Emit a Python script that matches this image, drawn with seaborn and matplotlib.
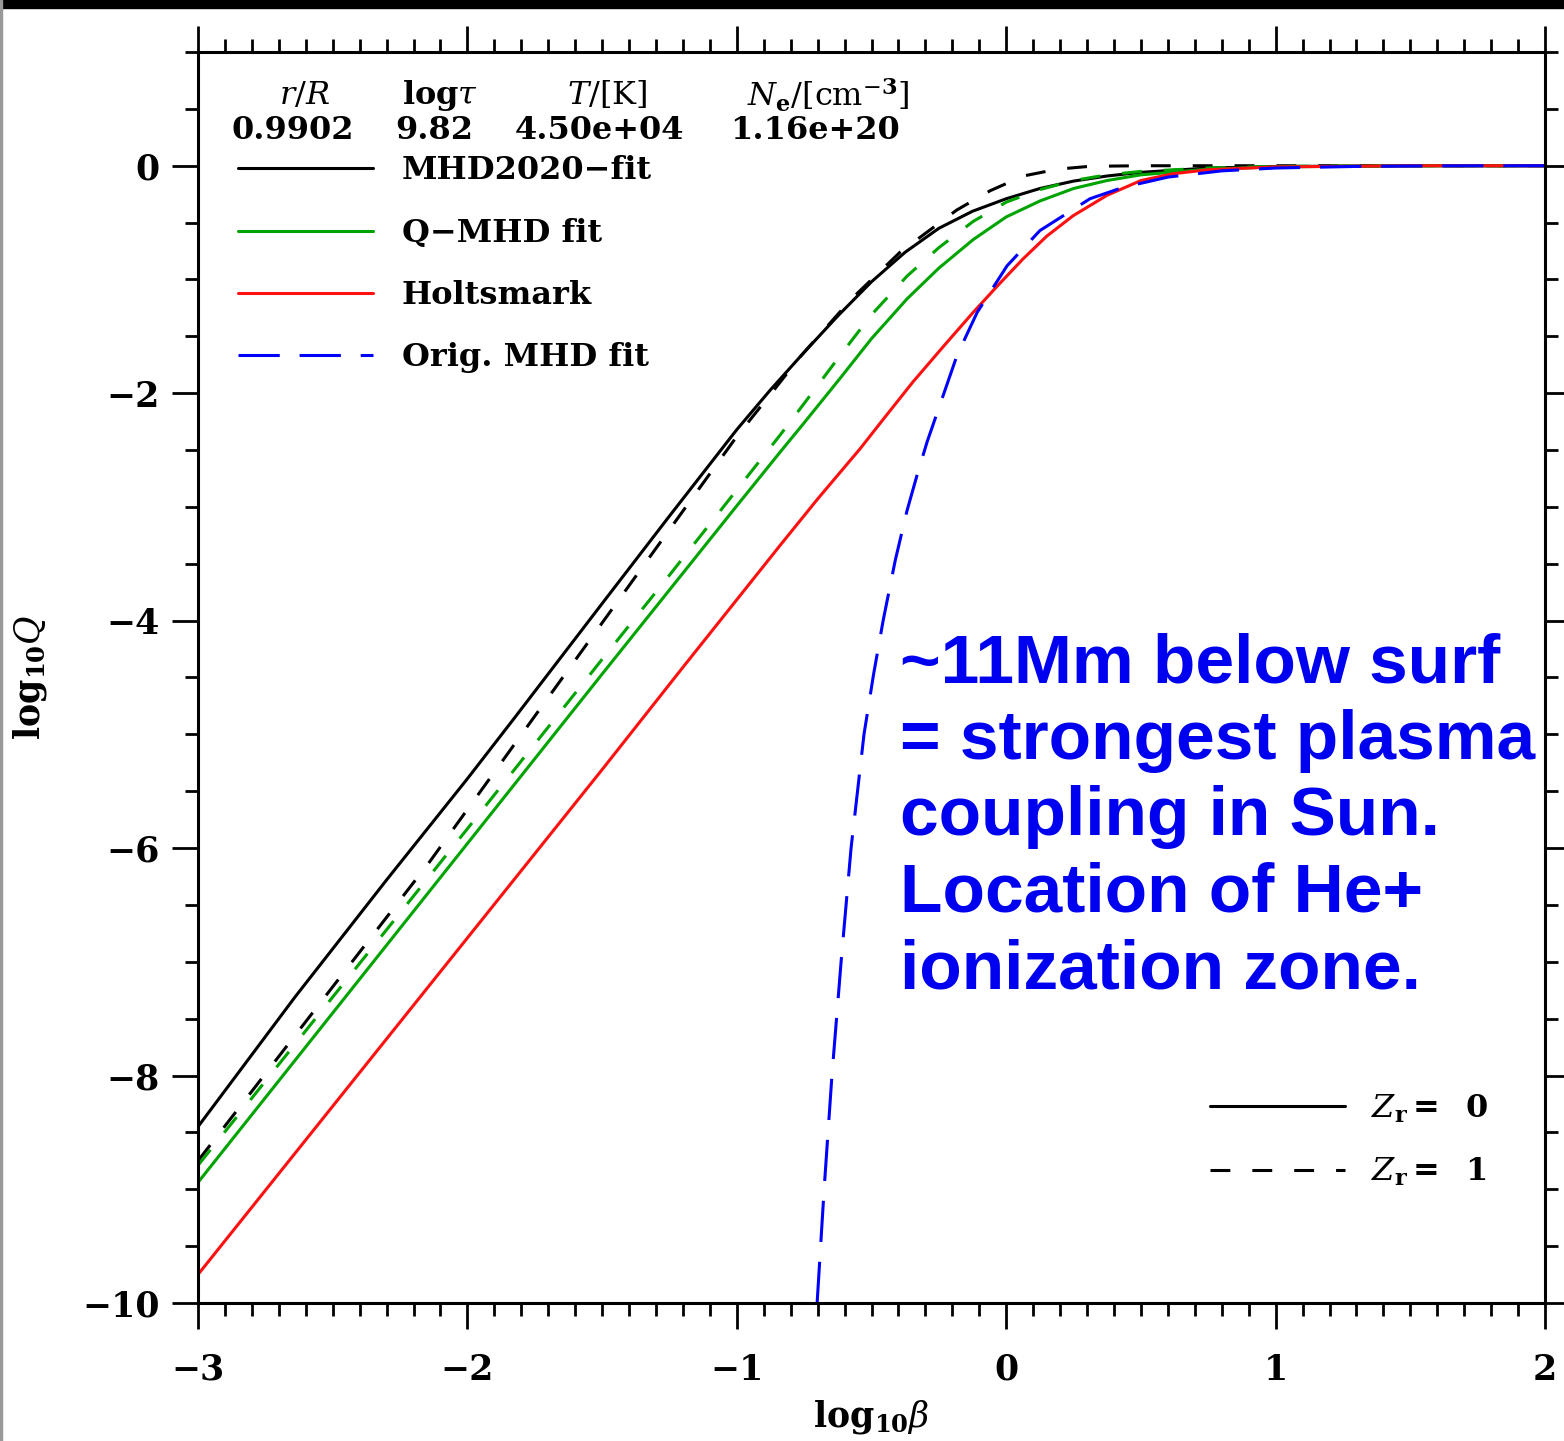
import matplotlib
matplotlib.use("Agg")
import matplotlib.pyplot as plt
import pandas as pd
import seaborn as sns
from matplotlib.lines import Line2D
from matplotlib.patches import Rectangle
from matplotlib.ticker import MultipleLocator

# log10(beta) -> log10(Q)
mhd_z0_x = [-3.0, -2.64, -2.3, -2.0, -1.83, -1.5, -1.25, -1.0, -0.875, -0.75,
            -0.625, -0.5, -0.375, -0.25, -0.125, 0.0, 0.125, 0.25, 0.375, 0.5, 0.75,
            1.0, 1.5, 2.0]
mhd_z0_y = [-8.45, -7.31, -6.28, -5.39, -4.87, -3.85, -3.08, -2.32, -1.97, -1.64,
            -1.32, -1.02, -0.76, -0.55, -0.40, -0.29, -0.20, -0.135, -0.09, -0.058, -0.02,
            -0.007, 0.0, 0.0]

mhd_z1_x = [-3.0, -2.5, -2.14, -1.75, -1.5, -1.25, -1.0, -0.875, -0.765, -0.574,
            -0.394, -0.184, -0.06, 0.064, 0.19, 0.311, 0.5, 1.0, 2.0]
mhd_z1_y = [-8.75, -7.22, -6.12, -4.84, -4.02, -3.20, -2.38, -2.01, -1.68, -1.17,
            -0.76, -0.39, -0.22, -0.09, -0.03, -0.005, 0.0, 0.0, 0.0]

qmhd_z0_x = [-3.0, -2.5, -2.0, -1.5, -1.25, -1.0, -0.84, -0.75, -0.617, -0.5, -0.368,
             -0.25, -0.123, 0.0, 0.125, 0.25, 0.374, 0.5, 0.75, 1.0, 1.5, 2.0]
qmhd_z0_y = [-8.94, -7.45, -5.96, -4.47, -3.73, -2.99, -2.52, -2.26, -1.87, -1.52, -1.17,
             -0.90, -0.65, -0.45, -0.31, -0.20, -0.13, -0.08, -0.03, -0.01, 0.0, 0.0]

qmhd_z1_x = [-3.0, -2.5, -2.0, -1.5, -1.25, -1.0, -0.84, -0.75, -0.617, -0.5, -0.368,
             -0.25, -0.123, 0.0, 0.125, 0.25, 0.374, 0.5, 0.75, 1.0, 1.5, 2.0]
qmhd_z1_y = [-8.79, -7.31, -5.83, -4.34, -3.60, -2.85, -2.37, -2.09, -1.67, -1.31, -0.97,
             -0.72, -0.49, -0.32, -0.21, -0.13, -0.08, -0.05, -0.02, -0.005, 0.0, 0.0]

holts_x = [-3.0, -2.5, -2.0, -1.5, -1.2, -0.84, -0.7, -0.543, -0.45, -0.346, -0.23,
           -0.123, -0.03, 0.062, 0.15, 0.248, 0.374, 0.5, 0.62, 0.75, 1.0, 1.5, 2.0]
holts_y = [-9.75, -8.27, -6.79, -5.31, -4.41, -3.34, -2.93, -2.49, -2.21, -1.90, -1.58,
           -1.29, -1.05, -0.82, -0.62, -0.44, -0.26, -0.13, -0.07, -0.035, -0.01, 0.0, 0.0]

orig_x = [-0.702, -0.676, -0.647, -0.613, -0.576, -0.528, -0.493, -0.457, -0.412, -0.368,
          -0.331, -0.294, -0.183, -0.108, 0.003, 0.125, 0.311, 0.434, 0.6, 0.8, 1.0,
          1.3, 1.6, 2.0]
orig_y = [-10.0, -9.0, -8.0, -7.0, -6.0, -5.0, -4.48, -4.0, -3.47, -3.03,
          -2.72, -2.43, -1.67, -1.29, -0.88, -0.57, -0.29, -0.19, -0.10, -0.045, -0.02,
          -0.006, -0.001, 0.0]

header_labels = [r"$r/R$", r"$\mathbf{log}\tau$", r"$T/[\mathrm{K}]$",
                 r"$N_{\mathbf{e}}/[\mathrm{cm}^{-\mathbf{3}}]$"]
header_values = ["0.9902", "9.82", "4.50e+04", "1.16e+20"]

model_labels = ["MHD2020\u2212fit", "Q\u2212MHD fit", "Holtsmark", "Orig. MHD fit"]
zr_labels = [r"$Z_{\mathbf{r}}\mathbf{=}\ \ \mathbf{0}$",
             r"$Z_{\mathbf{r}}\mathbf{=}\ \ \mathbf{1}$"]

note = ("~11Mm below surf\n= strongest plasma\ncoupling in Sun.\n"
        "Location of He+\nionization zone.")

curves = [
    ("mhd_z0", mhd_z0_x, mhd_z0_y),
    ("mhd_z1", mhd_z1_x, mhd_z1_y),
    ("qmhd_z0", qmhd_z0_x, qmhd_z0_y),
    ("qmhd_z1", qmhd_z1_x, qmhd_z1_y),
    ("holts", holts_x, holts_y),
    ("orig", orig_x, orig_y),
]
df = pd.concat(
    [pd.DataFrame({"log_beta": x, "log_q": y, "curve": name}) for name, x, y in curves],
    ignore_index=True,
)

GREEN = "#00a400"
RED = "#ff1010"
BLUE = "#0000ff"
SHORT = (6.5, 7.2)
LONG = (13.5, 6.5)

palette = {"mhd_z0": "black", "mhd_z1": "black", "qmhd_z0": GREEN,
           "qmhd_z1": GREEN, "holts": RED, "orig": BLUE}
dashes = {"mhd_z0": "", "mhd_z1": SHORT, "qmhd_z0": "", "qmhd_z1": SHORT,
          "holts": "", "orig": LONG}
order = [c[0] for c in curves]

sns.set_theme(style="ticks")
plt.rcParams.update({
    "font.family": ["DejaVu Serif"],
    "font.weight": "normal",
    "mathtext.fontset": "dejavuserif",
    "text.color": "black",
    "axes.labelcolor": "black",
    "axes.linewidth": 2.2,
    "xtick.major.size": 18.7, "xtick.minor.size": 9.4,
    "ytick.major.size": 18.7, "ytick.minor.size": 9.4,
    "xtick.major.width": 2.0, "xtick.minor.width": 2.0,
    "ytick.major.width": 2.0, "ytick.minor.width": 2.0,
    "xtick.color": "black", "ytick.color": "black",
    "xtick.labelcolor": "black", "ytick.labelcolor": "black",
    "axes.edgecolor": "black",
})

fig = plt.figure(figsize=(15.64, 14.41), dpi=100)
ax = fig.add_axes([0.1266, 0.0958, 0.8613, 0.8681])

sns.lineplot(data=df, x="log_beta", y="log_q", hue="curve", style="curve",
             hue_order=order, style_order=order, palette=palette, dashes=dashes,
             estimator=None, sort=False, legend=False, lw=2.2, ax=ax)

ax.set_xlim(-3, 2)
ax.set_ylim(-10, 1)
ax.xaxis.set_major_locator(MultipleLocator(1))
ax.xaxis.set_minor_locator(MultipleLocator(0.1))
ax.yaxis.set_major_locator(MultipleLocator(2))
ax.yaxis.set_minor_locator(MultipleLocator(0.5))
ax.tick_params(which="both", direction="out", top=True, right=True)
ax.tick_params(axis="x", which="major", pad=17, labelsize=25)
ax.tick_params(axis="y", which="major", pad=9, labelsize=25)
for lab in ax.get_xticklabels() + ax.get_yticklabels():
    lab.set_fontweight("bold")

ax.set_xlabel(r"$\mathbf{log}_{\mathbf{10}}\beta$", fontsize=25, labelpad=8)
ax.set_ylabel(r"$\mathbf{log}_{\mathbf{10}}Q$", fontsize=25, labelpad=24)

# header block (position / log tau / temperature / density)
head_x = [0.0794, 0.1797, 0.3036, 0.4677]
val_x = [0.0705, 0.1752, 0.2984, 0.4581]
for hx, txt in zip(head_x, header_labels):
    ax.text(hx, 0.9656, txt, transform=ax.transAxes, ha="center", va="center",
            fontsize=23)
for vx, txt in zip(val_x, header_values):
    ax.text(vx, 0.9376, txt, transform=ax.transAxes, ha="center", va="center",
            fontsize=23, fontweight="bold")

model_handles = [
    Line2D([], [], color="black", lw=2.2),
    Line2D([], [], color=GREEN, lw=2.2),
    Line2D([], [], color=RED, lw=2.2),
    Line2D([], [], color=BLUE, lw=2.2, dashes=LONG),
]
leg1 = ax.legend(model_handles, model_labels, loc="upper left",
                 bbox_to_anchor=(0.0297, 0.9173), frameon=False, fontsize=23,
                 borderpad=0, borderaxespad=0, handlelength=4.23,
                 handletextpad=0.9, labelspacing=0.98)
for t in leg1.get_texts():
    t.set_fontweight("bold")
ax.add_artist(leg1)

zr_handles = [
    Line2D([], [], color="black", lw=2.2),
    Line2D([], [], color="black", lw=2.2, dashes=SHORT),
]
ax.legend(zr_handles, zr_labels, loc="upper left",
          bbox_to_anchor=(0.7513, 0.1683), frameon=False, fontsize=23,
          borderpad=0, borderaxespad=0, handlelength=4.23,
          handletextpad=0.8, labelspacing=0.98)

ax.text(0.521, 0.536, note, transform=ax.transAxes, ha="left", va="top",
        fontsize=50, fontweight="bold", color="#0000f0",
        family=["Liberation Sans", "DejaVu Sans"], linespacing=1.25)

# screenshot frame: dark strip on top, thin grey edge on the left
fig.add_artist(Rectangle((0, 1 - 8 / 1441), 1, 8 / 1441, transform=fig.transFigure,
                         color="black", zorder=10))
fig.add_artist(Rectangle((0, 0), 2 / 1564, 1, transform=fig.transFigure,
                         color="#999999", zorder=10))

fig.savefig("out.png", dpi=100)
